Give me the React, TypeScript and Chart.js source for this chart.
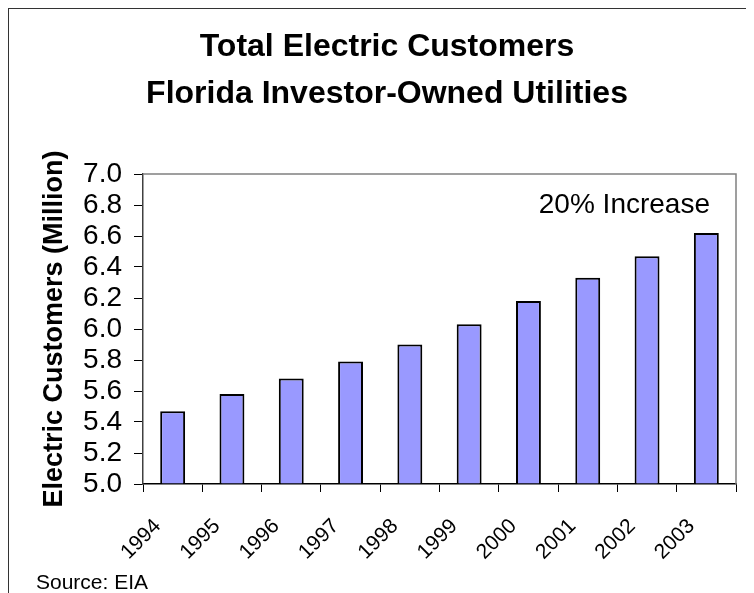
import React, { useEffect, useRef } from "react";
import { Chart, registerables } from "chart.js";

Chart.register(...registerables);

const categories = ["1994", "1995", "1996", "1997", "1998", "1999", "2000", "2001", "2002", "2003"];
const customers = [5.47, 5.58, 5.68, 5.79, 5.9, 6.03, 6.18, 6.33, 6.47, 6.62];
const yTicks = [5.0, 5.2, 5.4, 5.6, 5.8, 6.0, 6.2, 6.4, 6.6, 6.8, 7.0];
const titleLines = ["Total Electric Customers", "Florida Investor-Owned Utilities"];
const yAxisTitle = "Electric Customers (Million)";
const annotationText = "20% Increase";
const sourceText = "Source: EIA";

const FONT = "'Liberation Sans', Arial, Helvetica, sans-serif";
const PAD_LEFT = 29;

const extrasPlugin = {
  id: "extras",
  afterDatasetsDraw(chart: any) {
    const { ctx, chartArea } = chart;
    ctx.save();
    // plot frame (top & right)
    ctx.strokeStyle = "#808080";
    ctx.lineWidth = 1.5;
    ctx.beginPath();
    ctx.moveTo(chartArea.left, chartArea.top);
    ctx.lineTo(chartArea.right, chartArea.top);
    ctx.lineTo(chartArea.right, chartArea.bottom);
    ctx.stroke();
    // annotation
    ctx.fillStyle = "#000";
    ctx.font = `28px ${FONT}`;
    ctx.textAlign = "right";
    ctx.textBaseline = "alphabetic";
    ctx.fillText(annotationText, chartArea.right - 26, chartArea.top + 39);
    // source
    ctx.font = `21px ${FONT}`;
    ctx.textAlign = "left";
    ctx.fillText(sourceText, 27, chart.height - 4);
    ctx.restore();
  },
};

export default function App() {
  const ref = useRef<HTMLCanvasElement>(null);
  useEffect(() => {
    if (!ref.current) return;
    const chart = new Chart(ref.current, {
      type: "bar",
      data: {
        labels: categories,
        datasets: [
          {
            data: customers,
            base: 5,
            backgroundColor: "#9999FF",
            borderColor: "#000000",
            borderWidth: 2,
            borderSkipped: "start",
            categoryPercentage: 1,
            barPercentage: 0.42,
          },
        ],
      },
      options: {
        animation: false,
        responsive: true,
        maintainAspectRatio: false,
        layout: { padding: { left: PAD_LEFT, right: 18, top: 0, bottom: 0 } },
        plugins: {
          legend: { display: false },
          tooltip: { enabled: false },
          title: {
            display: true,
            text: titleLines,
            color: "#000",
            font: { family: FONT, size: 32, weight: "bold", lineHeight: 47 / 32 },
            padding: { top: 15, bottom: 56 },
          },
        },
        scales: {
          x: {
            afterFit: (s: any) => {
              s.height = 109;
            },
            grid: {
              drawOnChartArea: false,
              drawTicks: true,
              tickLength: 8,
              color: "#000",
              offset: true,
            },
            border: { display: true, color: "#000", width: 1.5 },
            ticks: {
              color: "#000",
              font: { family: FONT, size: 21 },
              minRotation: 45,
              maxRotation: 45,
              autoSkip: false,
              padding: 22,
              labelOffset: -15,
            },
          },
          y: {
            min: 5,
            max: 7,
            afterFit: (s: any) => {
              s.width = 134 - PAD_LEFT;
            },
            afterBuildTicks: (s: any) => {
              s.ticks = yTicks.map((v) => ({ value: v }));
            },
            grid: {
              drawOnChartArea: false,
              drawTicks: true,
              tickLength: 9,
              color: "#000",
            },
            border: { display: true, color: "#404040", width: 1.5 },
            ticks: {
              color: "#000",
              font: { family: FONT, size: 28, lineHeight: 1 },
              autoSkip: false,
              padding: 12,
              callback: (v: any) => Number(v).toFixed(1),
            },
            title: {
              display: true,
              text: yAxisTitle,
              color: "#000",
              font: { family: FONT, size: 27, weight: "bold", lineHeight: 1 },
              padding: { top: 46 - PAD_LEFT - 13.5, bottom: 0 },
            },
          },
        },
      },
      plugins: [extrasPlugin],
    });
    return () => chart.destroy();
  }, []);

  return (
    <div
      style={{
        width: 745,
        height: 584,
        borderTop: "1.5px solid #333",
        borderLeft: "1.5px solid #333",
        background: "#fff",
      }}
    >
      <canvas ref={ref} />
    </div>
  );
}
